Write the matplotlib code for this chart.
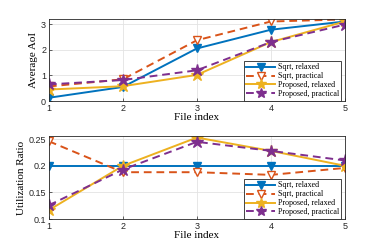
import matplotlib
matplotlib.use("Agg")
import matplotlib.pyplot as plt
import numpy as np

files = [1, 2, 3, 4, 5]
labels = ["Sqrt, relaxed", "Sqrt, practical", "Proposed, relaxed", "Proposed, practical"]

aoi_sqrt_relaxed = [0.13, 0.55, 2.05, 2.78, 3.10]
aoi_sqrt_practical = [0.57, 0.85, 2.37, 3.10, 3.18]
aoi_prop_relaxed = [0.45, 0.58, 1.02, 2.30, 3.10]
aoi_prop_practical = [0.65, 0.82, 1.20, 2.30, 2.98]

util_sqrt_relaxed = [0.200, 0.200, 0.200, 0.200, 0.200]
util_sqrt_practical = [0.246, 0.188, 0.188, 0.183, 0.196]
util_prop_relaxed = [0.117, 0.200, 0.253, 0.228, 0.200]
util_prop_practical = [0.126, 0.193, 0.245, 0.228, 0.210]

BLUE, ORANGE, YELLOW, PURPLE = "#0072BD", "#D95319", "#EDB120", "#7E2F8E"
styles = [
  dict(color=BLUE, ls="-", marker="v", mfc=BLUE, ms=6),
  dict(color=ORANGE, ls=(0, (4, 2.5)), marker="v", mfc="white", ms=6),
  dict(color=YELLOW, ls="-", marker="*", mfc=YELLOW, ms=9),
  dict(color=PURPLE, ls=(0, (4, 2.5)), marker="*", mfc=PURPLE, ms=9),
]

serif = "Liberation Serif"
tick_font = "Liberation Sans"

fig = plt.figure(figsize=(3.82, 2.49), dpi=100)
ax1 = fig.add_axes([0.128, 0.594, 0.775, 0.330])
ax2 = fig.add_axes([0.128, 0.120, 0.775, 0.334])


def style_axes(ax, ylabel):
  ax.set_xlim(1, 5)
  ax.set_xticks(files)
  ax.grid(True, color="#e3e3e3", lw=0.6)
  ax.set_axisbelow(True)
  ax.tick_params(direction="in", length=2.5, width=0.5, labelsize=6.5, pad=2, colors="#262626")
  for lab in ax.get_xticklabels() + ax.get_yticklabels():
    lab.set_fontfamily(tick_font)
  for sp in ax.spines.values():
    sp.set_linewidth(0.6)
    sp.set_color("#262626")
  ax.set_xlabel("File index", fontfamily=serif, fontsize=8, labelpad=0)
  ax.set_ylabel(ylabel, fontfamily=serif, fontsize=8, labelpad=2)
  leg = ax.legend(loc="lower right", bbox_to_anchor=(0.988, 0.005), prop={"family": serif, "size": 5.8},
                  fancybox=False, framealpha=1, edgecolor="#262626", borderpad=0.3, labelspacing=0.12,
                  handlelength=3.6, handletextpad=0.3, borderaxespad=0.0, markerscale=0.85)
  leg.get_frame().set_linewidth(0.6)


for ys, lab, st in zip([aoi_sqrt_relaxed, aoi_sqrt_practical, aoi_prop_relaxed, aoi_prop_practical], labels, styles):
  ax1.plot(files, ys, label=lab, lw=1.4, mew=1.0, mec=st["color"], **st)
ax1.set_ylim(0, 3.2)
ax1.set_yticks([0, 1, 2, 3])
style_axes(ax1, "Average AoI")

for ys, lab, st in zip([util_sqrt_relaxed, util_sqrt_practical, util_prop_relaxed, util_prop_practical], labels, styles):
  ax2.plot(files, ys, label=lab, lw=1.4, mew=1.0, mec=st["color"], **st)
ax2.set_ylim(0.1, 0.256)
ax2.set_yticks([0.1, 0.15, 0.2, 0.25])
ax2.set_yticklabels(["0.1", "0.15", "0.2", "0.25"])
style_axes(ax2, "Utilization Ratio")

fig.savefig("out.png", dpi=100)
